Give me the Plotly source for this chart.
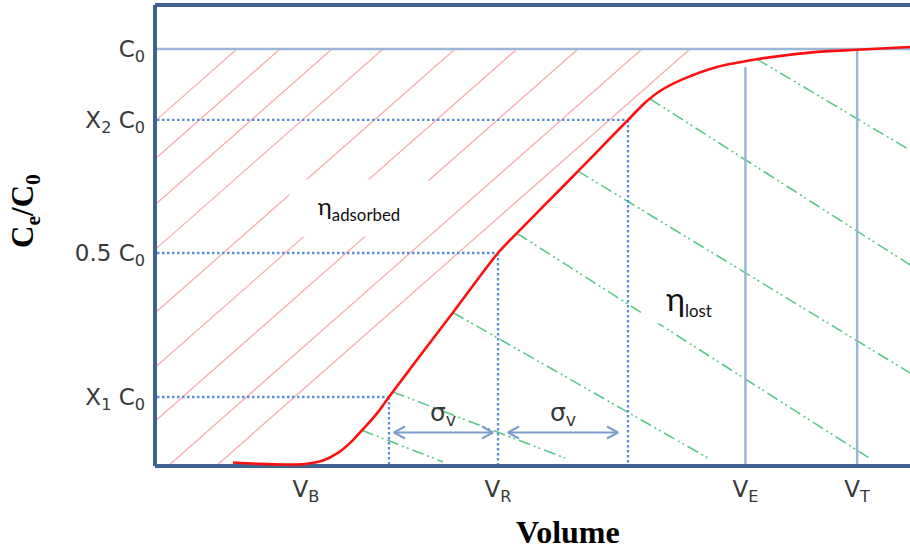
import numpy as np
import plotly.graph_objects as go

# ---------------------------------------------------------------
# Breakthrough curve: relative effluent concentration vs. volume
# ---------------------------------------------------------------
VOLUME = [10.33, 13.91, 17.22, 19.87, 22.25, 24.24, 26.09, 27.95, 29.54, 30.99,
          35.10, 39.47, 45.43, 49.67, 54.04, 58.28, 62.65, 64.90, 66.89, 69.93,
          74.44, 79.74, 87.68, 92.98, 100.0]
RATIO = [-0.0135, -0.017, -0.0184, -0.017, -0.0086, 0.010, 0.039, 0.076, 0.110, 0.147,
         0.248, 0.354, 0.500, 0.581, 0.663, 0.743, 0.826, 0.868, 0.897, 0.926,
         0.956, 0.975, 0.993, 0.998, 1.005]

# Characteristic concentration levels (fractions of C0)
C0_LEVEL = 1.0
X2_LEVEL = 0.826
HALF_LEVEL = 0.5
X1_LEVEL = 0.147
Y_TICK_VALUES = [C0_LEVEL, X2_LEVEL, HALF_LEVEL, X1_LEVEL]
Y_TICK_TEXT = ["C<sub>0</sub>", "X<sub>2</sub> C<sub>0</sub>", "0.5 C<sub>0</sub>", "X<sub>1</sub> C<sub>0</sub>"]

# Characteristic volumes
V_B = 20.0
V_X1 = 30.99
V_R = 45.43
V_X2 = 62.65
V_E = 78.2
V_T = 93.0
V_E_TOP = 0.955
X_TICK_VALUES = [V_B, V_R, V_E, V_T]
X_TICK_TEXT = ["V<sub>B</sub>", "V<sub>R</sub>", "V<sub>E</sub>", "V<sub>T</sub>"]

# Hatching of the adsorbed area: where each stroke meets the C0 line
RED_HATCH_TOP_V = [10.86, 16.56, 23.44, 30.2, 39.74, 47.95, 56.03, 64.5, 70.86]
# Hatching of the lost area: stroke start on the curve and stroke end
GREEN_START_V = [27.42, 31.5, 39.47, 47.95, 56.03, 65.56, 79.74]
GREEN_END_V = [38.15, 54.3, 73.25, 94.97, 100.0, 100.0, 100.0]
GREEN_END_RATIO = [-0.012, -0.0025, -0.0025, -0.007, 0.206, 0.471, 0.752]

# ---------------------------------------------------------------
# Geometry and styles
# ---------------------------------------------------------------
W, H = 910, 551
M_L, M_R, M_T, M_B = 155, 0, 5, 85
X_RANGE = [0.0, 100.0]
Y_RANGE = [-0.0221, 1.1078]
PX_PER_V = (W - M_L - M_R) / (X_RANGE[1] - X_RANGE[0])
PX_PER_R = (H - M_T - M_B) / (Y_RANGE[1] - Y_RANGE[0])

FRAME = "#3f6391"
GUIDE = "#9cb6da"
DOTS = "#5a8fd8"
ARROW = "#7d9dcb"
CURVE = "#ff1010"
RED_HATCH = "rgba(246,110,110,0.58)"
GREEN_HATCH = "#5cc98a"
TEXT = "#383838"

RED_SLOPE_PX = 0.88
ARROW_Y = 0.060
ARROW_GAP_PX = 5
HEAD_LEN_PX = 11
HEAD_HALF_PX = 6
INSET_PX = 2          # keep strokes off the frame lines

x_in = X_RANGE[0] + INSET_PX / PX_PER_V
y_in = Y_RANGE[0] + INSET_PX / PX_PER_R

fig = go.Figure()


def seg(xs, ys, color, width, dash="solid"):
    fig.add_trace(go.Scatter(x=xs, y=ys, mode="lines", hoverinfo="skip",
                             line=dict(color=color, width=width, dash=dash),
                             showlegend=False))


# Red hatch: rising strokes from the C0 line down to the left axis / baseline
red_slope = RED_SLOPE_PX * PX_PER_V / PX_PER_R
for v_top in RED_HATCH_TOP_V:
    y_at_axis = C0_LEVEL - (v_top - x_in) * red_slope
    if y_at_axis >= y_in:
        x0, y0 = x_in, y_at_axis
    else:
        x0 = v_top - (C0_LEVEL - y_in) / red_slope
        y0 = y_in
    seg([x0, v_top], [y0, C0_LEVEL], RED_HATCH, 1.2)

# Green hatch: falling dash-dot-dot strokes below the curve
for sv, ev, er in zip(GREEN_START_V, GREEN_END_V, GREEN_END_RATIO):
    sy = float(np.interp(sv, VOLUME, RATIO))
    seg([sv, ev], [sy, er], GREEN_HATCH, 1.6, dash="12px,4px,2px,3px,2px,4px")

# C0 level and the exhaustion / total volume markers
seg([x_in, X_RANGE[1]], [C0_LEVEL, C0_LEVEL], GUIDE, 2.5)
seg([V_E, V_E], [y_in, V_E_TOP], GUIDE, 2.5)
seg([V_T, V_T], [y_in, C0_LEVEL], GUIDE, 2.5)

# Dotted read-off lines
for lvl, vol in [(X2_LEVEL, V_X2), (HALF_LEVEL, V_R), (X1_LEVEL, V_X1)]:
    seg([x_in, vol], [lvl, lvl], DOTS, 2.3, dash="2.5px,2.5px")
    seg([vol, vol], [lvl, y_in], DOTS, 2.3, dash="2.5px,2.5px")

# Double-headed sigma arrows
gap = ARROW_GAP_PX / PX_PER_V
hl = HEAD_LEN_PX / PX_PER_V
hh = HEAD_HALF_PX / PX_PER_R
sigma_spans = [(V_X1 + gap, V_R - gap), (V_R + 2 * gap, V_X2 - 2 * gap)]
for a, b in sigma_spans:
    seg([a, b], [ARROW_Y, ARROW_Y], ARROW, 2)
    seg([a + hl, a, a + hl], [ARROW_Y + hh, ARROW_Y, ARROW_Y - hh], ARROW, 2)
    seg([b - hl, b, b - hl], [ARROW_Y + hh, ARROW_Y, ARROW_Y - hh], ARROW, 2)

# Breakthrough curve
fig.add_trace(go.Scatter(x=VOLUME, y=RATIO, mode="lines", hoverinfo="skip",
                         line=dict(color=CURVE, width=2.6, shape="spline", smoothing=0.7),
                         showlegend=False))

annotations = []
for a, b in sigma_spans:
    annotations.append(dict(x=(a + b) / 2, y=ARROW_Y, yshift=19, showarrow=False,
                            text="σ<sub>v</sub>",
                            font=dict(family="DejaVu Sans", size=25, color=TEXT)))

annotations.append(dict(x=27.0, y=0.610, showarrow=False, text="η<sub>adsorbed</sub>",
                        font=dict(family="Lato", size=24, color="#111111"),
                        bgcolor="white", width=138, height=56, borderpad=0))
annotations.append(dict(x=70.73, y=0.385, showarrow=False,
                        text='<span style="font-size:32px">η</span><sub>lost</sub>',
                        font=dict(family="Lato", size=24, color="#111111"),
                        bgcolor="white", width=92, height=46, borderpad=0))

annotations.append(dict(xref="paper", yref="paper", x=(568 - M_L) / (W - M_L - M_R), y=0,
                        yshift=-66, showarrow=False, text="<b>Volume</b>",
                        font=dict(family="Liberation Serif", size=32, color="black"),
                        xanchor="center", yanchor="middle"))
annotations.append(dict(xref="paper", yref="paper", x=0, xshift=-130,
                        y=(H - M_B - 211) / (H - M_T - M_B), showarrow=False,
                        text="<b>C<sub>e</sub>/C<sub>0</sub></b>", textangle=-90,
                        font=dict(family="Liberation Serif", size=31, color="black"),
                        xanchor="center", yanchor="middle"))

frame = dict(color=FRAME, width=4)
shapes = [
    dict(type="line", xref="paper", yref="paper", x0=0, x1=0, y0=0, y1=1, line=frame, layer="below"),
    dict(type="line", xref="paper", yref="paper", x0=0, x1=1, y0=1, y1=1, line=frame, layer="below"),
    dict(type="line", xref="paper", yref="paper", x0=0, x1=1, y0=0, y1=0, line=frame, layer="below"),
]

tick_font = dict(family="DejaVu Sans", size=23, color=TEXT)
fig.update_layout(
    width=W, height=H,
    margin=dict(l=M_L, r=M_R, t=M_T, b=M_B),
    paper_bgcolor="white", plot_bgcolor="white",
    showlegend=False,
    xaxis=dict(range=X_RANGE, tickvals=X_TICK_VALUES, ticktext=X_TICK_TEXT,
               showgrid=False, zeroline=False, showline=False, ticks="",
               tickfont=tick_font, ticklabelstandoff=7, fixedrange=True),
    yaxis=dict(range=Y_RANGE, tickvals=Y_TICK_VALUES, ticktext=Y_TICK_TEXT,
               showgrid=False, zeroline=False, showline=False, ticks="",
               tickfont=tick_font, ticklabelstandoff=9, fixedrange=True),
    annotations=annotations,
    shapes=shapes,
)

fig.write_html("out.html")
